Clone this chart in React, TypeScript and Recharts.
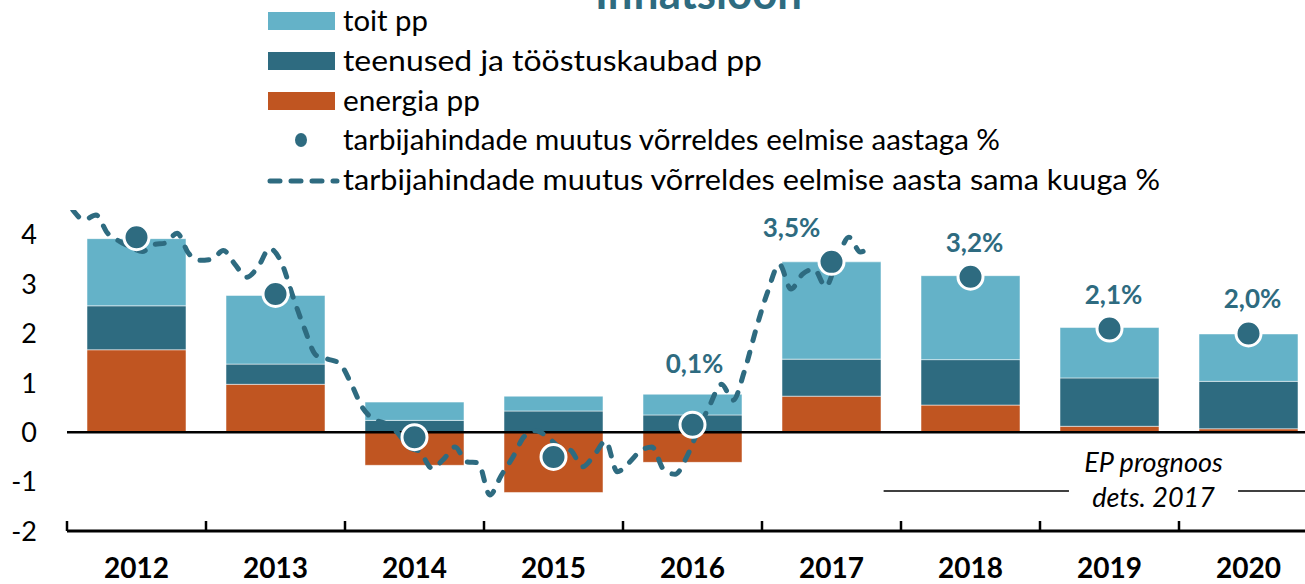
import React from 'react';
import { ComposedChart, Bar, Line, XAxis, YAxis, ReferenceLine, Label } from 'recharts';

const years = ['2012', '2013', '2014', '2015', '2016', '2017', '2018', '2019', '2020'];
const energia = [1.67, 0.97, -0.67, -1.22, -0.61, 0.73, 0.55, 0.12, 0.07];
const teenused = [0.89, 0.41, 0.24, 0.43, 0.35, 0.75, 0.92, 0.98, 0.96];
const toit = [1.36, 1.39, 0.37, 0.3, 0.42, 1.97, 1.7, 1.02, 0.96];
const cpiYear = [3.95, 2.8, -0.1, -0.5, 0.15, 3.45, 3.15, 2.1, 2.0];
const cpiLabels = ['', '', '', '', '0,1%', '3,5%', '3,2%', '2,1%', '2,0%'];
// monthly yoy change, Jan 2012 .. Oct 2017
const cpiMonthly = [
  4.5, 4.3, 4.4, 4.03, 3.87, 3.75, 3.66, 3.8, 3.83, 4.03, 3.62, 3.48,
  3.5, 3.68, 3.4, 3.14, 3.35, 3.72, 3.44, 2.75, 2.1, 1.56, 1.48, 1.4,
  1.0, 0.5, 0.26, 0.18, 0.0, -0.3, -0.4, -0.73, -0.55, -0.3, -0.6, -0.62,
  -1.27, -0.87, -0.5, -0.08, 0.03, -0.1, -0.3, -0.37, -0.7, -0.47, -0.18, -0.8,
  -0.62, -0.38, -0.3, -0.75, -0.85, -0.5, 0.05, 0.55, 0.97, 0.65, 1.25, 2.1,
  2.85, 3.4, 2.9, 3.2, 3.3, 2.95, 3.5, 3.95, 3.65, 3.8,
];
const yTicks = [-2, -1, 0, 1, 2, 3, 4];

const C_TOIT = '#64B2C8';
const C_TEEN = '#2E6B80';
const C_ENER = '#C05521';
const TEAL = '#2E6B80';
const FONT = 'Lato, "Open Sans", sans-serif';

const rows = years.map((year, i) => ({
  year,
  energia: energia[i],
  teenused: teenused[i],
  toit: toit[i],
  cpi: cpiYear[i],
  label: cpiLabels[i],
}));
const monthly = cpiMonthly.map((v, i) => ({ m: i + 0.5, v }));

// label nudges (layout only)
const labelNudge: Record<string, { dx: number; dy: number }> = {
  '2016': { dx: 2, dy: -52 },
  '2017': { dx: -40, dy: -25 },
};

function YearTick(props: any) {
  const { x, y, payload } = props;
  const half = payload?.offset ?? 69.5;
  return (
    <g>
      <line x1={x - half} x2={x - half} y1={y - 10} y2={y} stroke="#000" strokeWidth={2.5} />
      <text x={x} y={y + 47} textAnchor="middle" fontFamily={FONT} fontWeight={700} fontSize={28} fill="#000">
        {payload.value}
      </text>
    </g>
  );
}

function ValueTick(props: any) {
  const { x, y, payload } = props;
  return (
    <text x={x} y={y} dy="0.36em" textAnchor="end" fontFamily={FONT} fontSize={27} fill="#000">
      {payload.value}
    </text>
  );
}

function CpiDot(props: any) {
  const { cx, cy, index, payload } = props;
  if (cx == null || cy == null) return <g key={index} />;
  const n = labelNudge[payload.year] ?? { dx: 4, dy: -25 };
  return (
    <g key={index}>
      <circle cx={cx} cy={cy} r={12.5} fill={TEAL} stroke="#fff" strokeWidth={3} />
      {payload.label ? (
        <text x={cx + n.dx} y={cy + n.dy} textAnchor="middle" fontFamily={FONT} fontWeight={700} fontSize={26} fill={TEAL}>
          {payload.label}
        </text>
      ) : null}
    </g>
  );
}

function ForecastNote(props: any) {
  const vb = props.viewBox || {};
  const cx = vb.x + (vb.width || 0) / 2;
  const cy = vb.y;
  return (
    <g fontFamily={FONT} fontStyle="italic" fontSize={27} fill="#000" textAnchor="middle">
      <text x={cx} y={cy - 19}>EP prognoos</text>
      <text x={cx} y={cy + 16}>dets. 2017</text>
    </g>
  );
}

function Legend() {
  const tx = 343;
  const style = { fontFamily: FONT, fontSize: 28, fill: '#000' } as const;
  return (
    <svg width={1305} height={200} style={{ position: 'absolute', left: 0, top: 0 }}>
      <text x={595} y={9} textLength={207} lengthAdjust="spacingAndGlyphs" fontFamily={FONT} fontWeight={700} fontSize={46} fill={TEAL}>
        Inflatsioon
      </text>
      <rect x={268} y={12} width={67} height={18} fill={C_TOIT} />
      <text x={tx} y={31} {...style} textLength={85} lengthAdjust="spacingAndGlyphs">toit pp</text>
      <rect x={268} y={52} width={67} height={18} fill={C_TEEN} />
      <text x={tx} y={71} {...style} textLength={419} lengthAdjust="spacingAndGlyphs">teenused ja tööstuskaubad pp</text>
      <rect x={268} y={92} width={67} height={18} fill={C_ENER} />
      <text x={tx} y={111} {...style} textLength={137} lengthAdjust="spacingAndGlyphs">energia pp</text>
      <ellipse cx={301} cy={140} rx={6} ry={7} fill={TEAL} />
      <text x={tx} y={150} {...style} textLength={657} lengthAdjust="spacingAndGlyphs">
        tarbijahindade muutus võrreldes eelmise aastaga %
      </text>
      <line x1={270} x2={337} y1={181} y2={181} stroke={TEAL} strokeWidth={5} strokeDasharray="10 11" strokeLinecap="round" />
      <text x={tx} y={190} {...style} textLength={817} lengthAdjust="spacingAndGlyphs">
        tarbijahindade muutus võrreldes eelmise aasta sama kuuga %
      </text>
    </svg>
  );
}

export default function App() {
  return (
    <div style={{ position: 'absolute', left: 0, top: 0, width: 1305, height: 584, overflow: 'hidden', background: '#fff' }}>
      <ComposedChart
        width={1320}
        height={584}
        data={rows}
        stackOffset="sign"
        margin={{ top: 210, right: 2, bottom: 0, left: 0 }}
      >
        <XAxis
          xAxisId="cat"
          dataKey="year"
          height={53}
          interval={0}
          tickSize={0}
          tickMargin={0}
          tickLine={false}
          axisLine={{ stroke: '#000', strokeWidth: 3 }}
          tick={<YearTick />}
        />
        <XAxis xAxisId="m" dataKey="m" type="number" domain={[0, 108]} hide allowDataOverflow />
        <YAxis
          domain={[-2, 4.5]}
          ticks={yTicks}
          width={67}
          allowDataOverflow
          axisLine={false}
          tickLine={false}
          tickSize={0}
          tickMargin={30}
          tick={<ValueTick />}
          interval={0}
        />
        <Bar xAxisId="cat" dataKey="energia" stackId="a" fill={C_ENER} barSize={99} stroke="#fff" strokeOpacity={0.5} strokeWidth={1} isAnimationActive={false} />
        <Bar xAxisId="cat" dataKey="teenused" stackId="a" fill={C_TEEN} barSize={99} stroke="#fff" strokeOpacity={0.5} strokeWidth={1} isAnimationActive={false} />
        <Bar xAxisId="cat" dataKey="toit" stackId="a" fill={C_TOIT} barSize={99} stroke="#fff" strokeOpacity={0.5} strokeWidth={1} isAnimationActive={false} />
        <ReferenceLine xAxisId="cat" y={0} stroke="#000" strokeWidth={2.5} />
        <ReferenceLine
          xAxisId="m"
          segment={[{ x: 70.5, y: -1.19 }, { x: 86.5, y: -1.19 }]}
          stroke="#000"
          strokeWidth={1.5}
        />
        <ReferenceLine
          xAxisId="m"
          segment={[{ x: 101.1, y: -1.19 }, { x: 108, y: -1.19 }]}
          stroke="#000"
          strokeWidth={1.5}
        />
        <ReferenceLine
          xAxisId="m"
          segment={[{ x: 86.5, y: -1.19 }, { x: 101.1, y: -1.19 }]}
          stroke="none"
        >
          <Label content={<ForecastNote />} />
        </ReferenceLine>
        <Line
          xAxisId="cat"
          dataKey="cpi"
          stroke="none"
          dot={CpiDot}
          activeDot={false}
          isAnimationActive={false}
        />
        <Line
          xAxisId="m"
          data={monthly}
          dataKey="v"
          type="monotone"
          stroke={TEAL}
          strokeWidth={5}
          strokeDasharray="9 12"
          strokeLinecap="round"
          dot={false}
          activeDot={false}
          isAnimationActive={false}
        />
      </ComposedChart>
      <Legend />
    </div>
  );
}
